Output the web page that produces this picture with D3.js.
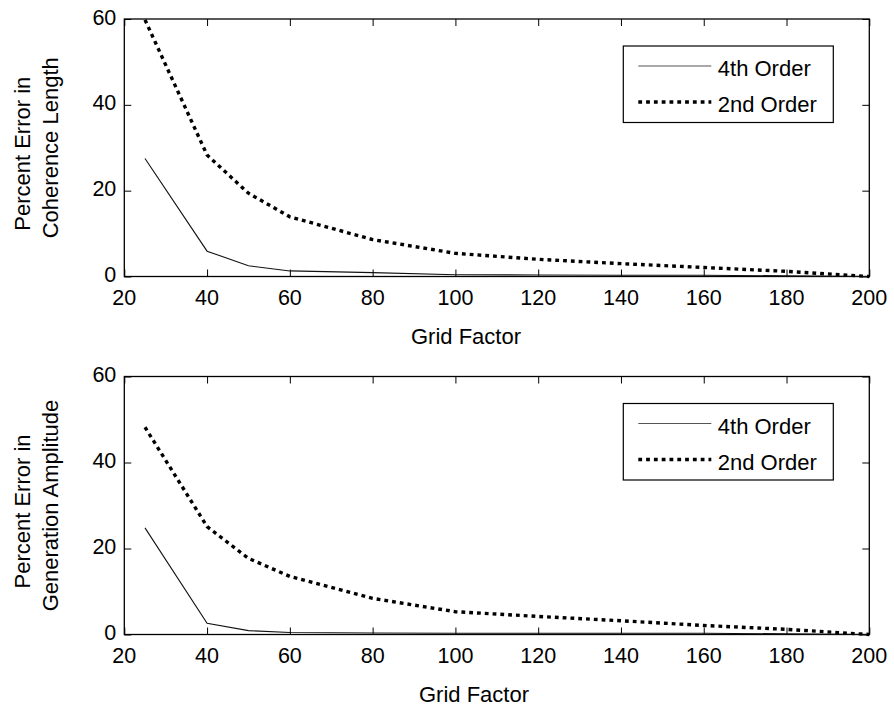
<!DOCTYPE html>
<html>
<head>
<meta charset="utf-8">
<script src="https://cdn.jsdelivr.net/npm/d3@7"></script>
<style>
  html, body { margin: 0; padding: 0; background: #fff; }
  svg { display: block; font-family: "Liberation Sans", Arial, Helvetica, sans-serif; }
</style>
</head>
<body>
<svg id="chart" width="894" height="711"></svg>
<script>
// ---- data ----
const gridFactor = [25, 40, 50, 60, 80, 100, 120, 140, 160, 180, 200];
const coherence4th = [27.5, 5.9, 2.5, 1.3, 0.9, 0.4, 0.35, 0.3, 0.3, 0.15, 0];
const coherence2nd = [59.8, 28.3, 19.4, 13.9, 8.6, 5.4, 4.0, 3.0, 2.1, 1.2, 0];
const amplitude4th = [24.8, 2.6, 0.9, 0.45, 0.35, 0.3, 0.3, 0.3, 0.3, 0.15, 0];
const amplitude2nd = [48.2, 25.1, 17.7, 13.5, 8.4, 5.3, 4.2, 3.2, 2.1, 1.2, 0];
const xTicks = [20, 40, 60, 80, 100, 120, 140, 160, 180, 200];
const yTicks = [0, 20, 40, 60];
const seriesNames = ["4th Order", "2nd Order"];
const xLabel = "Grid Factor";
const panels = [
  { yLabel: ["Percent Error in", "Coherence Length"], s4: coherence4th, s2: coherence2nd, top: 19, bottom: 276.5, xLabelX: 466 },
  { yLabel: ["Percent Error in", "Generation Amplitude"], s4: amplitude4th, s2: amplitude2nd, top: 376.5, bottom: 634.5, xLabelX: 474 }
];

const svg = d3.select("#chart");
const left = 124.3, right = 869.3;
const tickLen = 7;
const fsTick = 21.5, fsLabel = 22;

panels.forEach(p => {
  const x = d3.scaleLinear().domain([20, 200]).range([left, right]);
  const y = d3.scaleLinear().domain([0, 60]).range([p.bottom, p.top]);
  const g = svg.append("g");

  // axes with inward ticks on all four sides
  const axB = d3.axisBottom(x).tickValues(xTicks).tickSize(-tickLen).tickFormat("");
  const axT = d3.axisTop(x).tickValues(xTicks).tickSize(-tickLen).tickFormat("");
  const axL = d3.axisLeft(y).tickValues(yTicks).tickSize(-tickLen).tickFormat("");
  const axR = d3.axisRight(y).tickValues(yTicks).tickSize(-tickLen).tickFormat("");
  [[axB, `translate(0,${p.bottom})`], [axT, `translate(0,${p.top})`],
   [axL, `translate(${left},0)`], [axR, `translate(${right},0)`]].forEach(([ax, tr]) => {
    const a = g.append("g").attr("transform", tr).call(ax);
    a.select(".domain").remove();
    a.selectAll(".tick line").attr("stroke", "#000").attr("stroke-width", 1);
  });

  // frame
  g.append("rect").attr("x", left).attr("y", p.top)
    .attr("width", right - left).attr("height", p.bottom - p.top)
    .attr("fill", "none").attr("stroke", "#000").attr("stroke-width", 1.3);

  // tick labels
  g.selectAll(".xtl").data(xTicks).enter().append("text")
    .attr("x", d => x(d)).attr("y", p.bottom + 28)
    .attr("text-anchor", "middle").attr("font-size", fsTick).attr("fill", "#000")
    .text(d => d);
  g.selectAll(".ytl").data(yTicks).enter().append("text")
    .attr("x", left - 8).attr("y", d => y(d) + 5.5)
    .attr("text-anchor", "end").attr("font-size", fsTick).attr("fill", "#000")
    .text(d => d);

  // lines
  const line = d3.line().x((d, i) => x(gridFactor[i])).y(d => y(d));
  g.append("path").datum(p.s4).attr("d", line)
    .attr("fill", "none").attr("stroke", "#111").attr("stroke-width", 1.1);
  g.append("path").datum(p.s2).attr("d", line)
    .attr("fill", "none").attr("stroke", "#000").attr("stroke-width", 3.4)
    .attr("stroke-dasharray", "3.8,4");

  // axis labels
  g.append("text").attr("x", p.xLabelX).attr("y", p.bottom + 67.5)
    .attr("text-anchor", "middle").attr("font-size", fsLabel).attr("fill", "#000")
    .text(xLabel);
  const cy = (p.top + p.bottom) / 2;
  p.yLabel.forEach((t, i) => {
    g.append("text")
      .attr("transform", `translate(${29.5 + i * 28.3},${cy + (i === 0 ? 6 : 0)}) rotate(-90)`)
      .attr("text-anchor", "middle").attr("font-size", fsLabel).attr("fill", "#000")
      .text(t);
  });

  // legend
  const lx0 = right - 36 - 210, ly0 = p.top + 27;
  const lg = g.append("g");
  lg.append("rect").attr("x", lx0).attr("y", ly0).attr("width", 210).attr("height", 76.5)
    .attr("fill", "#fff").attr("stroke", "#000").attr("stroke-width", 1.2);
  const rows = [
    { name: seriesNames[0], dash: null, w: 1.1, c: "#555" },
    { name: seriesNames[1], dash: "3.8,4", w: 3.4, c: "#000" }
  ];
  rows.forEach((r, i) => {
    const ly = ly0 + 20 + i * 36;
    const ln = lg.append("line").attr("x1", lx0 + 15).attr("x2", lx0 + 88)
      .attr("y1", ly).attr("y2", ly).attr("stroke", r.c).attr("stroke-width", r.w);
    if (r.dash) ln.attr("stroke-dasharray", r.dash);
    lg.append("text").attr("x", lx0 + 94.5).attr("y", ly + 10)
      .attr("font-size", fsLabel).attr("fill", "#000").text(r.name);
  });
});
</script>
</body>
</html>
